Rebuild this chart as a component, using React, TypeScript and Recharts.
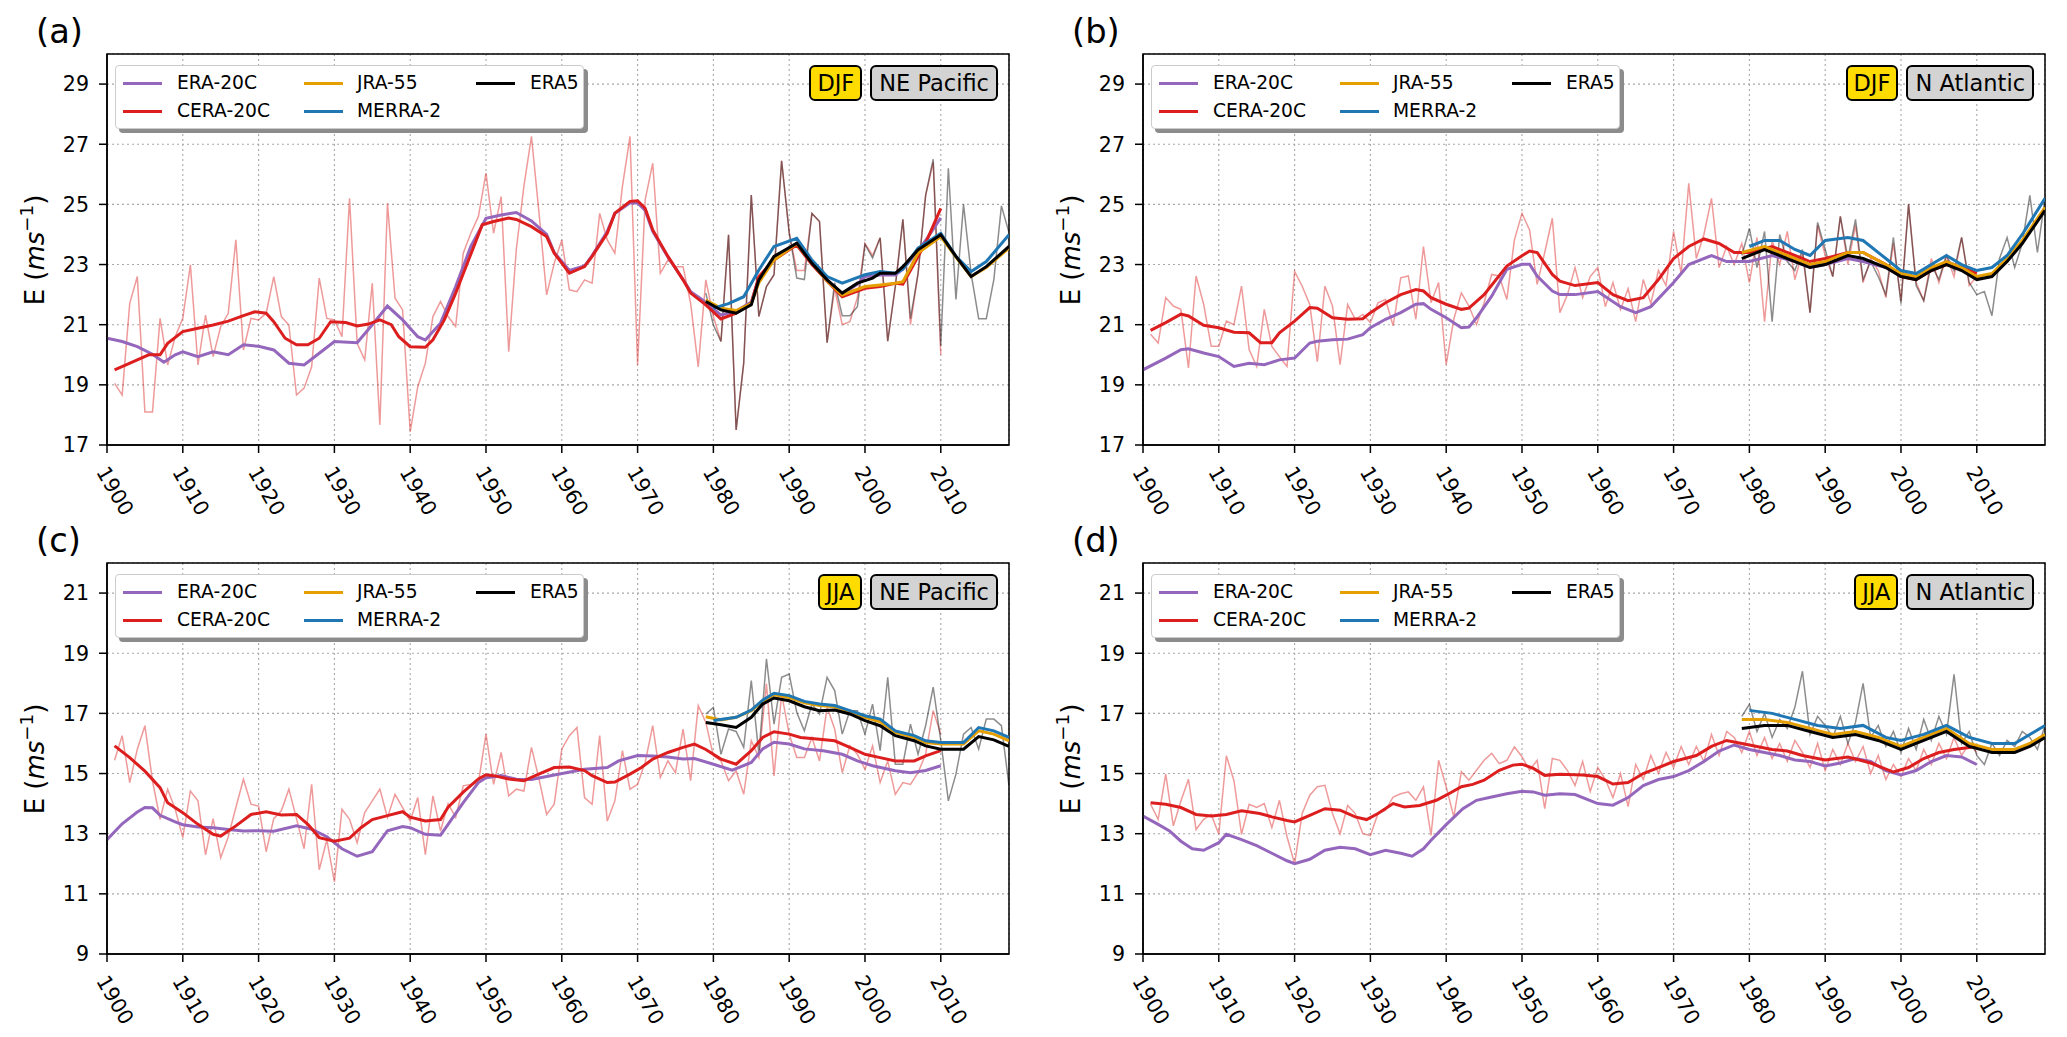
import React from 'react';
import { LineChart, Line, XAxis, YAxis, CartesianGrid, ReferenceArea } from 'recharts';

type Pt = [number, number];

// ---------- shared ticks ----------
const X_TICKS = [1900, 1910, 1920, 1930, 1940, 1950, 1960, 1970, 1980, 1990, 2000, 2010];
const TOP_Y_TICKS = [17, 19, 21, 23, 25, 27, 29];
const BOTTOM_Y_TICKS = [9, 11, 13, 15, 17, 19, 21];
const CERA_START = 1901;
const ERA5_START = 1979;

// ---------- (a) DJF NE Pacific ----------
const aEra20c: Pt[] = [[1900,20.55],[1902,20.44],[1904,20.27],[1906,20.02],[1907.5,19.75],[1909,20.0],[1910,20.1],[1912,19.94],[1914,20.1],[1916,20.0],[1918,20.33],[1920,20.28],[1922,20.16],[1924,19.72],[1926,19.66],[1928,20.05],[1930,20.44],[1933,20.4],[1935,21.0],[1937,21.62],[1939,21.16],[1941,20.6],[1942,20.49],[1944,21.05],[1946,22.27],[1948,23.6],[1950,24.54],[1952,24.65],[1954,24.73],[1956,24.45],[1958,24.0],[1959,23.4],[1961,22.8],[1963,22.95],[1964,23.3],[1966,24.1],[1967,24.7],[1969,25.05],[1970,25.05],[1971,24.8],[1972,24.1],[1974,23.25],[1976,22.5],[1977,22.1],[1979,21.75],[1981,21.32],[1983,21.45],[1985,21.75],[1986,22.55],[1988,23.2],[1990,23.55],[1991,23.7],[1993,23.1],[1995,22.5],[1997,22.0],[1999,22.35],[2000,22.6],[2002,22.65],[2004,22.65],[2005,22.85],[2007,23.45],[2008,23.8],[2010,24.55]];
const aCera20c: Pt[] = [[1901,19.5],[1904,19.83],[1905.5,20.0],[1907,20.0],[1908,20.38],[1910,20.77],[1912,20.88],[1914,20.99],[1916,21.12],[1918,21.3],[1919.5,21.43],[1921,21.38],[1922,21.1],[1923.5,20.55],[1925,20.33],[1926.5,20.33],[1928,20.55],[1929.5,21.1],[1931.5,21.07],[1933,20.96],[1934.5,21.02],[1936,21.16],[1937.5,21.0],[1938.5,20.6],[1940,20.27],[1942,20.25],[1943,20.5],[1944.5,21.16],[1946,22.05],[1947.7,23.15],[1949.5,24.32],[1951,24.43],[1953,24.55],[1954,24.5],[1956,24.26],[1958,23.93],[1959,23.38],[1961,22.71],[1963,22.93],[1964,23.27],[1966,24.04],[1967,24.71],[1969,25.1],[1970,25.12],[1971,24.87],[1972,24.15],[1974,23.27],[1976,22.49],[1977,22.05],[1979,21.66],[1981,21.19],[1983,21.38],[1985,21.71],[1986,22.6],[1988,23.15],[1990,23.49],[1991,23.65],[1993,23.0],[1995,22.45],[1997,21.93],[2000,22.21],[2002,22.27],[2004,22.38],[2005,22.35],[2007,23.27],[2008,23.71],[2010,24.87]];
const aJra55: Pt[] = [[1979,21.82],[1981,21.55],[1983,21.47],[1985,21.7],[1986,22.4],[1988,23.15],[1991,23.7],[1993,23.05],[1995,22.45],[1997,21.99],[2000,22.27],[2002,22.32],[2004,22.38],[2005,22.43],[2007,23.38],[2010,23.93],[2012,23.25],[2014,22.6],[2016,22.9],[2019,23.55]];
const aMerra2: Pt[] = [[1980,21.55],[1982,21.7],[1984,21.93],[1986,22.82],[1988,23.6],[1991,23.87],[1993,23.15],[1995,22.6],[1997,22.38],[2000,22.66],[2002,22.77],[2004,22.71],[2005,22.85],[2007,23.55],[2010,24.04],[2012,23.27],[2014,22.77],[2016,23.1],[2019,23.99]];
const aEra5: Pt[] = [[1979,21.77],[1981,21.49],[1983,21.38],[1985,21.66],[1986,22.49],[1988,23.27],[1991,23.71],[1993,23.04],[1995,22.49],[1997,22.05],[1999,22.38],[2001,22.55],[2002,22.71],[2004,22.71],[2005,22.93],[2007,23.49],[2010,23.99],[2012,23.27],[2014,22.6],[2016,22.93],[2019,23.6]];
const aCeraAnnual = [
  19.05, 18.66, 21.71, 22.6, 18.1, 18.1, 21.21, 19.66, 20.6, 21.21,
  22.99, 19.66, 21.32, 19.94, 20.94, 21.38, 23.82, 20.16, 21.21, 21.16,
  21.38, 22.6, 21.27, 20.99, 18.66, 18.89, 19.6, 22.55, 21.21, 21.16,
  20.6, 25.2, 20.38, 19.83, 22.38, 17.67, 25.04, 21.88, 21.49, 17.44,
  18.94, 19.72, 21.27, 21.77, 21.27, 20.94, 23.38, 24.04, 24.6, 26.04,
  24.04, 25.26, 20.1, 23.5, 25.6, 27.26, 24.7, 21.99, 23.04, 23.82,
  22.16, 22.1, 22.49, 22.38, 24.7, 23.82, 23.38, 25.6, 27.26, 19.66,
  25.15, 26.37, 22.71, 23.15, 22.93, 22.93, 21.71, 19.6, 22.49, 21.27,
  20.44, 23.99, 17.5, 19.72, 25.31, 21.27, 22.27, 22.66, 26.45, 24.06,
  22.8, 22.8, 24.7, 24.43, 20.4, 22.2, 21.0, 21.1, 21.9, 23.7,
  23.3, 23.89, 20.45, 22.27, 24.5, 21.0, 22.7, 25.3, 26.4, 20.0,
];
const aEra5Annual = [
  22.05, 20.99, 20.44, 23.99, 17.5, 19.72, 25.31, 21.27, 22.27, 22.66,
  26.45, 24.06, 22.55, 22.5, 24.7, 24.43, 20.4, 22.4, 21.3, 21.3,
  21.6, 23.67, 23.22, 23.89, 20.45, 22.27, 24.5, 21.2, 22.7, 25.3,
  26.5, 20.3, 26.2, 21.84, 25.0, 22.7, 21.2, 21.2, 22.5, 24.95, 24.06,
];

// ---------- (b) DJF N Atlantic ----------
const bEra20c: Pt[] = [[1900,19.5],[1903,19.89],[1905,20.17],[1906,20.2],[1908,20.06],[1910,19.94],[1912,19.61],[1914,19.72],[1916,19.67],[1918,19.83],[1920,19.89],[1922,20.39],[1923,20.45],[1925,20.5],[1927,20.52],[1929,20.67],[1930,20.9],[1932,21.18],[1934,21.4],[1936,21.68],[1937,21.7],[1938,21.51],[1940,21.23],[1942,20.9],[1943,20.92],[1944,21.23],[1946,21.95],[1948,22.84],[1950,23.01],[1951,23.01],[1952,22.62],[1954,22.12],[1955,22.0],[1957,22.0],[1960,22.1],[1963,21.6],[1965,21.4],[1967,21.6],[1970,22.4],[1972,23.0],[1975,23.3],[1977,23.1],[1980,23.1],[1983,23.3],[1986,23.1],[1988,22.9],[1990,23.0],[1993,23.2],[1995,23.1],[1998,22.9],[2000,22.6],[2002,22.6],[2004,22.8],[2006,23.1],[2008,22.9],[2010,22.8]];
const bCera20c: Pt[] = [[1901,20.81],[1903,21.07],[1905,21.35],[1906,21.29],[1908,20.98],[1910,20.9],[1912,20.75],[1914,20.73],[1915.5,20.4],[1917,20.4],[1918,20.73],[1920,21.12],[1922,21.57],[1923,21.55],[1925,21.23],[1927,21.18],[1929,21.2],[1930,21.4],[1932,21.73],[1934,22.0],[1936,22.17],[1937,22.12],[1938,21.9],[1940,21.68],[1942,21.51],[1943,21.55],[1945,22.0],[1948,22.95],[1950,23.29],[1951,23.45],[1952,23.4],[1954,22.67],[1955,22.45],[1957,22.3],[1960,22.4],[1962,22.0],[1964,21.8],[1966,21.9],[1968,22.5],[1970,23.2],[1972,23.6],[1974,23.85],[1976,23.7],[1978,23.4],[1980,23.4],[1983,23.6],[1986,23.3],[1988,23.1],[1990,23.2],[1993,23.4],[1995,23.4],[1998,23.0],[2000,22.6],[2002,22.5],[2004,22.8],[2006,23.0],[2008,22.9],[2010,22.7]];
const bJra55: Pt[] = [[1979,23.4],[1982,23.6],[1985,23.3],[1988,23.0],[1990,23.1],[1993,23.4],[1995,23.4],[1998,23.0],[2000,22.7],[2002,22.6],[2004,22.9],[2006,23.1],[2008,22.9],[2010,22.6],[2012,22.7],[2014,23.2],[2016,23.8],[2019,24.9]];
const bMerra2: Pt[] = [[1980,23.6],[1982,23.8],[1984,23.8],[1986,23.5],[1988,23.3],[1990,23.8],[1993,23.9],[1995,23.8],[1998,23.2],[2000,22.8],[2002,22.7],[2004,23.0],[2006,23.3],[2008,23.0],[2010,22.8],[2012,22.9],[2014,23.3],[2016,24.0],[2019,25.2]];
const bEra5: Pt[] = [[1979,23.2],[1982,23.5],[1985,23.2],[1988,22.9],[1990,23.0],[1993,23.3],[1995,23.2],[1998,22.9],[2000,22.6],[2002,22.5],[2004,22.8],[2006,23.0],[2008,22.8],[2010,22.5],[2012,22.6],[2014,23.1],[2016,23.7],[2019,24.8]];
const bCeraAnnual = [
  20.68, 20.39, 21.9, 21.62, 21.51, 19.56, 22.62, 21.68, 20.28, 20.28,
  21.12, 21.0, 22.28, 20.17, 19.61, 21.51, 20.28, 19.94, 19.61, 22.77,
  22.28, 21.67, 19.77, 22.28, 21.62, 19.67, 21.67, 21.18, 21.34, 21.07,
  21.73, 21.84, 20.96, 22.56, 22.62, 21.18, 23.6, 21.73, 22.4, 19.67,
  21.18, 22.06, 21.62, 21.0, 21.73, 22.67, 22.62, 21.84, 23.82, 24.7,
  24.15, 22.34, 23.4, 24.54, 21.4, 22.0, 22.9, 21.9, 22.6, 22.9,
  21.6, 22.4, 21.5, 22.2, 21.1, 22.5, 21.7, 22.8, 22.3, 24.1,
  22.7, 25.7, 23.2, 24.0, 25.2, 22.9, 23.6, 23.0, 23.7, 22.4,
  23.9, 21.1, 23.8, 23.0, 24.1, 22.5, 23.4, 21.4, 24.3, 23.3,
  22.6, 24.6, 23.0, 24.3, 22.4, 23.2, 22.8, 21.9, 23.7, 21.8,
  25.0, 22.4, 21.8, 23.2, 22.4, 23.3, 22.6, 23.9, 22.3, 22.6,
];
const bEra5Annual = [
  23.3, 24.2, 22.9, 24.1, 21.1, 24.0, 23.1, 22.8, 23.5, 21.4,
  24.4, 23.5, 22.6, 24.6, 23.2, 24.5, 22.5, 23.1, 22.6, 22.0,
  23.9, 21.7, 25.0, 22.3, 21.8, 23.0, 22.5, 23.3, 22.8, 23.9,
  22.4, 22.0, 22.1, 21.3, 23.2, 23.9, 22.9, 23.7, 25.3, 23.4, 25.2,
];

// ---------- (c) JJA NE Pacific ----------
const cEra20c: Pt[] = [[1900,12.8],[1902,13.33],[1904,13.72],[1905,13.87],[1906,13.86],[1907,13.61],[1909,13.39],[1910,13.3],[1912,13.22],[1914,13.2],[1916,13.14],[1918,13.09],[1920,13.1],[1922,13.08],[1925,13.26],[1927,13.15],[1929,12.9],[1931,12.5],[1933,12.25],[1935,12.4],[1937,13.1],[1939,13.24],[1940,13.2],[1942,12.98],[1944,12.95],[1945,13.31],[1947,14.03],[1949,14.7],[1950,14.86],[1952,14.93],[1954,14.81],[1956,14.8],[1959,14.95],[1963,15.14],[1966,15.2],[1967.5,15.42],[1970,15.6],[1972,15.58],[1974,15.55],[1976,15.48],[1977.5,15.5],[1980,15.31],[1982.5,15.11],[1985,15.37],[1986.5,15.82],[1988,16.04],[1990,15.98],[1992,15.82],[1994.5,15.76],[1997,15.64],[1999,15.42],[2001,15.26],[2004,15.09],[2006,15.03],[2008,15.1],[2010,15.26]];
const cCera20c: Pt[] = [[1901,15.92],[1903,15.53],[1905,15.08],[1907,14.53],[1908,14.03],[1910,13.7],[1912,13.31],[1914,12.98],[1915,12.92],[1917,13.26],[1919,13.64],[1921,13.73],[1923,13.62],[1925,13.64],[1926.5,13.31],[1928,12.87],[1930,12.75],[1932,12.85],[1933.5,13.2],[1935,13.47],[1937,13.6],[1939,13.73],[1940,13.55],[1942,13.42],[1944,13.47],[1945,13.88],[1947,14.38],[1949,14.82],[1950,14.96],[1951,14.93],[1953,14.82],[1955,14.76],[1956.5,14.93],[1959,15.2],[1961,15.22],[1963,15.1],[1964,14.93],[1966,14.7],[1967,14.72],[1969,14.98],[1970.5,15.2],[1972,15.48],[1974,15.7],[1976,15.87],[1977.5,15.98],[1979,15.8],[1981,15.48],[1983,15.31],[1985,15.76],[1986.5,16.2],[1988,16.39],[1990,16.31],[1991.5,16.2],[1994,16.14],[1996,16.09],[1998,15.87],[2000,15.64],[2002,15.53],[2004,15.42],[2006.5,15.42],[2008,15.59],[2010,15.76]];
const cJra55: Pt[] = [[1979,16.89],[1981,16.78],[1983,16.87],[1985,17.09],[1986.5,17.4],[1988,17.62],[1990,17.53],[1992,17.35],[1994,17.26],[1996,17.22],[1998,17.05],[2000,16.87],[2002,16.72],[2004,16.37],[2006.5,16.2],[2008,16.03],[2010,15.98],[2013,15.98],[2015,16.42],[2017,16.31],[2019,16.09]];
const cMerra2: Pt[] = [[1980,16.76],[1983,16.87],[1985,17.11],[1986.5,17.44],[1988,17.67],[1990,17.59],[1992,17.4],[1994,17.31],[1996,17.26],[1998,17.09],[2000,16.92],[2002,16.81],[2004,16.42],[2006.5,16.26],[2008,16.09],[2010,16.03],[2013,16.03],[2015,16.53],[2017,16.42],[2019,16.2]];
const cEra5: Pt[] = [[1979,16.7],[1981,16.62],[1983,16.53],[1985,16.87],[1986.5,17.31],[1988,17.51],[1990,17.42],[1992,17.22],[1994,17.09],[1996,17.11],[1998,16.98],[2000,16.76],[2002,16.59],[2004,16.26],[2006.5,16.09],[2008,15.92],[2010,15.81],[2013,15.81],[2015,16.23],[2017,16.12],[2019,15.9]];
const cCeraAnnual = [
  15.44, 16.26, 14.7, 15.81, 16.59, 14.76, 13.48, 14.48, 13.81, 12.87,
  14.42, 14.09, 12.3, 13.5, 12.2, 12.9, 13.87, 14.81, 13.98, 13.92,
  12.4, 13.5, 13.76, 14.48, 13.5, 12.5, 14.64, 11.8, 12.8, 11.4,
  13.81, 13.48, 12.7, 13.7, 14.09, 14.48, 13.54, 14.31, 13.87, 13.42,
  14.2, 12.3, 14.26, 13.09, 14.0, 13.54, 14.59, 14.64, 14.7, 16.31,
  14.64, 15.7, 14.26, 14.48, 14.42, 15.87, 14.81, 13.64, 13.98, 15.81,
  16.26, 16.53, 14.2, 13.98, 16.26, 13.42, 14.09, 15.76, 14.48, 14.64,
  15.37, 16.59, 14.87, 15.42, 15.03, 16.48, 14.76, 17.26, 16.7, 15.59,
  15.42, 14.76, 15.09, 14.31, 16.09, 15.53, 17.98, 14.92, 17.64, 16.31,
  15.53, 15.53, 16.2, 15.42, 17.2, 16.48, 15.03, 15.92, 15.64, 15.14,
  15.92, 14.7, 15.42, 14.31, 14.7, 14.64, 15.03, 15.64, 17.09, 16.31,
];
const cEra5Annual = [
  16.98, 17.2, 15.64, 16.48, 16.4, 15.87, 18.09, 15.64, 18.81, 16.64,
  18.2, 18.31, 17.03, 16.42, 17.31, 16.98, 18.2, 17.76, 16.31, 17.09,
  17.09, 16.31, 17.31, 15.76, 18.2, 15.31, 15.31, 16.64, 15.64, 16.59,
  17.87, 16.09, 14.09, 14.98, 16.31, 16.53, 15.81, 16.81, 16.81, 16.59, 14.6,
];

// ---------- (d) JJA N Atlantic ----------
const dEra20c: Pt[] = [[1900,13.59],[1902,13.31],[1903.5,13.09],[1905,12.75],[1906.5,12.5],[1908,12.45],[1910,12.7],[1911,12.98],[1913,12.8],[1915,12.6],[1917,12.35],[1919,12.1],[1920,12.0],[1922,12.15],[1924,12.45],[1926,12.55],[1928,12.5],[1930,12.3],[1932,12.45],[1934,12.35],[1935.5,12.25],[1937,12.5],[1938,12.78],[1940,13.3],[1942.2,13.83],[1944,14.11],[1946,14.22],[1948,14.33],[1950,14.41],[1951.5,14.39],[1953,14.28],[1955,14.33],[1957,14.3],[1960,14.0],[1962,13.95],[1964,14.2],[1966,14.6],[1968,14.8],[1970,14.9],[1972,15.1],[1974,15.4],[1976,15.75],[1978,15.95],[1980,15.8],[1982,15.7],[1984,15.6],[1986,15.45],[1988,15.4],[1990,15.25],[1992,15.35],[1994,15.5],[1996,15.4],[1998,15.1],[2000,14.95],[2002,15.1],[2004,15.4],[2006,15.6],[2008,15.55],[2010,15.3]];
const dCera20c: Pt[] = [[1901,14.03],[1903,13.98],[1905,13.87],[1907,13.64],[1909,13.59],[1911,13.64],[1913,13.76],[1915.4,13.67],[1917,13.56],[1919,13.44],[1920,13.39],[1922,13.61],[1924,13.83],[1926,13.78],[1928,13.56],[1929.5,13.47],[1931,13.67],[1933,14.0],[1934.5,13.89],[1936.5,13.94],[1938.7,14.11],[1940,14.28],[1942,14.56],[1943.5,14.64],[1945,14.78],[1947,15.11],[1948.8,15.28],[1950,15.31],[1951.5,15.17],[1953,14.94],[1955,14.98],[1958,14.95],[1960,14.9],[1962,14.65],[1964,14.7],[1966,15.0],[1968,15.2],[1970,15.4],[1973,15.6],[1975,15.9],[1977,16.1],[1979,16.0],[1981,15.9],[1983,15.8],[1985,15.75],[1987,15.6],[1990,15.45],[1993,15.55],[1996,15.35],[1999,15.05],[2001,15.2],[2003,15.5],[2005,15.7],[2007,15.8],[2010,15.9]];
const dJra55: Pt[] = [[1979,16.8],[1982,16.8],[1985,16.7],[1988,16.5],[1991,16.3],[1994,16.4],[1997,16.2],[2000,15.9],[2003,16.2],[2006,16.5],[2009,16.0],[2012,15.8],[2015,15.8],[2017,16.0],[2019,16.3]];
const dMerra2: Pt[] = [[1980,17.1],[1983,17.0],[1986,16.8],[1989,16.6],[1992,16.5],[1995,16.6],[1998,16.2],[2000,16.1],[2003,16.3],[2006,16.6],[2009,16.2],[2012,16.0],[2015,16.0],[2017,16.3],[2019,16.6]];
const dEra5: Pt[] = [[1979,16.5],[1982,16.6],[1985,16.6],[1988,16.4],[1991,16.2],[1994,16.3],[1997,16.1],[2000,15.8],[2003,16.1],[2006,16.4],[2009,15.9],[2012,15.7],[2015,15.7],[2017,15.9],[2019,16.2]];
const dCeraAnnual = [
  13.98, 13.48, 14.98, 13.26, 14.09, 14.81, 13.14, 13.48, 13.64, 12.98,
  15.59, 14.76, 12.98, 13.98, 13.87, 14.0, 13.2, 14.11, 12.9, 12.0,
  13.67, 14.28, 14.56, 14.61, 13.67, 13.0, 13.94, 13.67, 13.0, 12.94,
  13.67, 13.78, 14.22, 14.33, 14.39, 14.11, 14.56, 12.94, 15.44, 14.56,
  13.56, 15.06, 14.78, 15.11, 15.44, 15.67, 15.33, 15.44, 15.89, 15.56,
  15.11, 15.44, 13.83, 15.5, 15.44, 15.1, 14.6, 15.4, 14.4, 15.2,
  14.8, 14.2, 15.0, 13.9, 15.3, 14.8, 15.6, 15.0, 15.7, 15.2,
  15.9, 15.3, 15.9, 15.4, 16.3, 15.6, 16.4, 16.2, 15.7, 16.4,
  15.6, 16.2, 15.5, 16.0, 15.4, 16.1, 15.7, 15.2, 16.0, 15.1,
  15.8, 15.3, 16.0, 15.4, 15.9, 15.0, 15.6, 14.8, 15.3, 14.9,
  15.5, 15.1, 15.8, 15.3, 16.0, 15.5, 16.2, 15.6, 16.0, 15.7,
];
const dEra5Annual = [
  16.9, 17.3, 16.4, 17.0, 16.2, 16.8, 16.5, 17.2, 18.4, 16.3,
  16.9, 16.6, 16.2, 16.9, 16.0, 16.7, 18.0, 16.2, 16.6, 15.9,
  16.4, 15.7, 16.5, 15.8, 16.8, 16.1, 16.9, 16.3, 18.3, 16.0,
  16.4, 15.6, 15.3, 16.0, 15.6, 16.1, 15.9, 16.4, 16.2, 15.8, 16.6,
];

// ---------- styles ----------
const FONT = '"DejaVu Sans", sans-serif';
const C_ERA20C = '#9467bd';
const C_CERA = '#dc1e1e';
const C_JRA = '#e69f00';
const C_MERRA = '#1f77b4';
const C_ERA5 = '#000000';

type Row = Record<string, number>;
function buildRows(smooth: Record<string, Pt[]>, annual: Record<string, { start: number; values: number[] }>): Row[] {
  const map = new Map<number, Row>();
  const get = (yr: number) => {
    let r = map.get(yr);
    if (!r) { r = { year: yr }; map.set(yr, r); }
    return r;
  };
  Object.entries(smooth).forEach(([k, pts]) => pts.forEach(([yr, v]) => { get(yr)[k] = v; }));
  Object.entries(annual).forEach(([k, s]) => s.values.forEach((v, i) => { get(s.start + i)[k] = v; }));
  return Array.from(map.values()).sort((a, b) => a.year - b.year);
}

const PW = 902, PH = 391, ML = 100, MT = 12, MR = 12, XH = 100;

const XTick = (props: any) => {
  const { x, y, payload } = props;
  const cx = x + 8, cy = y + 38;
  return (
    <text x={cx} y={cy} textAnchor="middle" dominantBaseline="central" transform={`rotate(60 ${cx} ${cy})`}
      fontSize={20.6} fontFamily={FONT} fill="#000">{payload.value}</text>
  );
};
const YTick = (props: any) => {
  const { x, y, payload } = props;
  return (
    <text x={x} y={y} dy="0.36em" textAnchor="end" fontSize={20.6} fontFamily={FONT} fill="#000">{payload.value}</text>
  );
};

const legendItems = [
  { name: 'ERA-20C', color: C_ERA20C, col: 0, row: 0 },
  { name: 'CERA-20C', color: C_CERA, col: 0, row: 1 },
  { name: 'JRA-55', color: C_JRA, col: 1, row: 0 },
  { name: 'MERRA-2', color: C_MERRA, col: 1, row: 1 },
  { name: 'ERA5', color: C_ERA5, col: 2, row: 0 },
];
const COL_HANDLE = [7, 188, 360];
const COL_TEXT = [61, 241, 414];
const ROW_Y = [17, 45];

interface PanelProps {
  left: number; top: number; label: string; season: string; region: string;
  yDomain: [number, number]; yTicks: number[]; rows: Row[];
}

function Panel({ left, top, label, season, region, yDomain, yTicks, rows }: PanelProps) {
  const thin = { dot: false as const, connectNulls: true, isAnimationActive: false, strokeWidth: 1.5 };
  const thick = { dot: false as const, connectNulls: true, isAnimationActive: false, strokeWidth: 3 };
  return (
    <>
      <div style={{ position: 'absolute', left: left - ML, top: top - MT }}>
        <LineChart width={ML + PW + MR} height={MT + PH + XH} data={rows} margin={{ top: MT, right: MR, bottom: 0, left: 0 }}>
          <CartesianGrid stroke="#a8a8a8" strokeDasharray="2 3" strokeWidth={1.1} />
          <XAxis type="number" dataKey="year" domain={[1900, 2019]} ticks={X_TICKS} allowDataOverflow interval={0}
            height={XH} tickSize={8} tickMargin={0} tick={<XTick />}
            axisLine={{ stroke: '#000', strokeWidth: 1.5 }} tickLine={{ stroke: '#000', strokeWidth: 1.5 }} />
          <YAxis type="number" domain={yDomain} ticks={yTicks} allowDataOverflow interval={0}
            width={ML} tickSize={8} tickMargin={10} tick={<YTick />}
            axisLine={{ stroke: '#000', strokeWidth: 1.5 }} tickLine={{ stroke: '#000', strokeWidth: 1.5 }} />
          <Line dataKey="ceraA" stroke={C_CERA} strokeOpacity={0.45} {...thin} />
          <Line dataKey="era5A" stroke="#000" strokeOpacity={0.45} {...thin} />
          <Line dataKey="era20c" stroke={C_ERA20C} {...thick} />
          <Line dataKey="cera20c" stroke={C_CERA} {...thick} />
          <Line dataKey="jra55" stroke={C_JRA} {...thick} />
          <Line dataKey="merra2" stroke={C_MERRA} {...thick} />
          <Line dataKey="era5" stroke={C_ERA5} {...thick} />
          <ReferenceArea x1={1900} x2={2019} y1={yDomain[0]} y2={yDomain[1]} fill="none" stroke="#000" strokeWidth={1.5} ifOverflow="visible" />
        </LineChart>
      </div>
      {/* panel label */}
      <div style={{ position: 'absolute', left: left - 71, top: top - 39, fontFamily: FONT, fontSize: 33.7, lineHeight: 1, color: '#000' }}>{label}</div>
      {/* y label */}
      <div style={{ position: 'absolute', left: left - 72 - 100, top: top + PH / 2 - 16, width: 200, height: 32, lineHeight: '32px', textAlign: 'center', transform: 'rotate(-90deg)', fontFamily: FONT, fontSize: 26, color: '#000', whiteSpace: 'nowrap' }}>
        E (<i>ms</i><span style={{ fontSize: '70%', position: 'relative', top: '-0.6em' }}>−1</span>)
      </div>
      {/* legend */}
      <div style={{ position: 'absolute', left: left + 8, top: top + 11, width: 469, height: 64, background: '#fff', border: '1px solid #cccccc', borderRadius: 4, boxShadow: '4px 4px 0 #8c8c8c', boxSizing: 'border-box', fontFamily: FONT, fontSize: 18.7 }}>
        {legendItems.map((it) => (
          <React.Fragment key={it.name}>
            <div style={{ position: 'absolute', left: COL_HANDLE[it.col], top: ROW_Y[it.row] - 1.5, width: 39, height: 3, background: it.color }} />
            <div style={{ position: 'absolute', left: COL_TEXT[it.col], top: ROW_Y[it.row] - 12, height: 24, lineHeight: '24px', whiteSpace: 'nowrap', color: '#000' }}>{it.name}</div>
          </React.Fragment>
        ))}
      </div>
      {/* badges */}
      <div style={{ position: 'absolute', right: 2067 - (left + PW - 11), top: top + 11, display: 'flex', gap: 8, fontFamily: FONT, fontSize: 22.5 }}>
        <div style={{ height: 36, boxSizing: 'border-box', border: '2px solid #000', borderRadius: 6, background: '#ffdc00', padding: '0 6px', lineHeight: '32px' }}>{season}</div>
        <div style={{ height: 36, boxSizing: 'border-box', border: '2px solid #000', borderRadius: 6, background: '#d3d3d3', padding: '0 7px', lineHeight: '32px' }}>{region}</div>
      </div>
    </>
  );
}

const rowsA = buildRows(
  { era20c: aEra20c, cera20c: aCera20c, jra55: aJra55, merra2: aMerra2, era5: aEra5 },
  { ceraA: { start: CERA_START, values: aCeraAnnual }, era5A: { start: ERA5_START, values: aEra5Annual } },
);
const rowsB = buildRows(
  { era20c: bEra20c, cera20c: bCera20c, jra55: bJra55, merra2: bMerra2, era5: bEra5 },
  { ceraA: { start: CERA_START, values: bCeraAnnual }, era5A: { start: ERA5_START, values: bEra5Annual } },
);
const rowsC = buildRows(
  { era20c: cEra20c, cera20c: cCera20c, jra55: cJra55, merra2: cMerra2, era5: cEra5 },
  { ceraA: { start: CERA_START, values: cCeraAnnual }, era5A: { start: ERA5_START, values: cEra5Annual } },
);
const rowsD = buildRows(
  { era20c: dEra20c, cera20c: dCera20c, jra55: dJra55, merra2: dMerra2, era5: dEra5 },
  { ceraA: { start: CERA_START, values: dCeraAnnual }, era5A: { start: ERA5_START, values: dEra5Annual } },
);

export default function App() {
  return (
    <div style={{ position: 'relative', width: 2067, height: 1037, background: '#fff', overflow: 'hidden' }}>
      <style>{'body{margin:0;}'}</style>
      <Panel left={107} top={54} label="(a)" season="DJF" region="NE Pacific" yDomain={[17, 30]} yTicks={TOP_Y_TICKS} rows={rowsA} />
      <Panel left={1143} top={54} label="(b)" season="DJF" region="N Atlantic" yDomain={[17, 30]} yTicks={TOP_Y_TICKS} rows={rowsB} />
      <Panel left={107} top={563} label="(c)" season="JJA" region="NE Pacific" yDomain={[9, 22]} yTicks={BOTTOM_Y_TICKS} rows={rowsC} />
      <Panel left={1143} top={563} label="(d)" season="JJA" region="N Atlantic" yDomain={[9, 22]} yTicks={BOTTOM_Y_TICKS} rows={rowsD} />
    </div>
  );
}
